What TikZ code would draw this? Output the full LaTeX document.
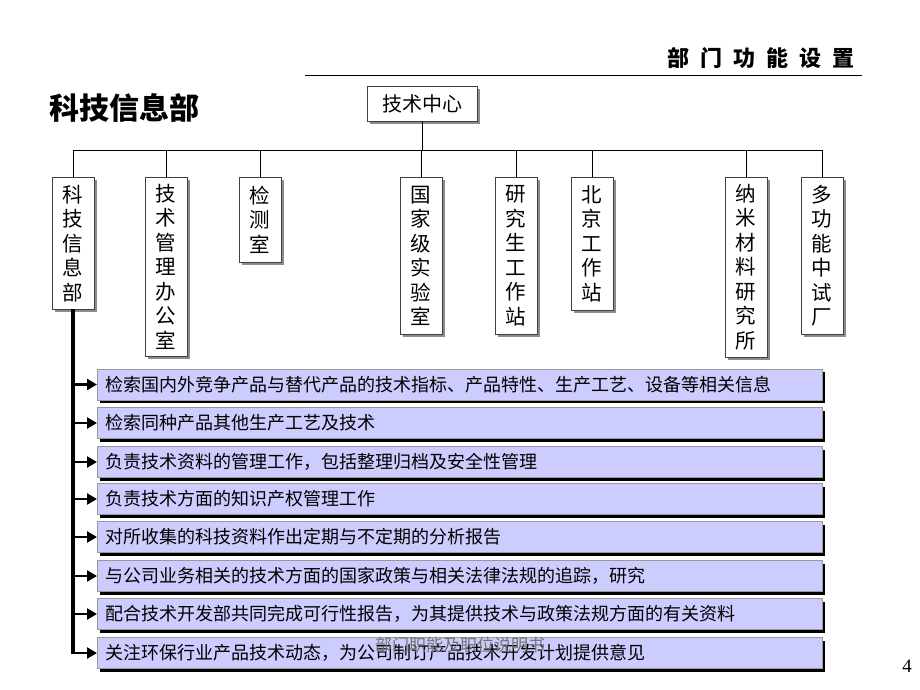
\documentclass[tikz,border=0pt]{standalone}
\usepackage{fontspec}
\setmainfont{Noto Sans CJK SC}
\newfontfamily\numfont{Liberation Serif}
\usetikzlibrary{arrows.meta,shadows}

\definecolor{featfill}{HTML}{CCCCFF}

\begin{document}
\begin{tikzpicture}[
    x=1pt, y=-1pt,
    orgbox/.style={
        draw=black!75,
        fill=white,
        anchor=north,
        minimum width=42pt,
        inner sep=0pt,
        align=center,
        font=\fontsize{20.5}{24.5}\selectfont,
        drop shadow={shadow xshift=3pt, shadow yshift=-3pt, fill=black!45, opacity=1}
    },
    featbox/.style={
        draw=black!40,
        fill=featfill,
        anchor=west,
        minimum height=31pt,
        text width=709pt,
        inner xsep=8pt,
        align=left,
        font=\fontsize{18}{20}\selectfont,
        drop shadow={shadow xshift=3pt, shadow yshift=-3pt, fill=black, opacity=1}
    },
    feed/.style={-{Triangle[length=10pt,width=11pt]}, line width=2.5pt}
]

\useasboundingbox (0,0) rectangle (920,690);

% heading
\node[anchor=east, font=\fontsize{22}{22}\selectfont\bfseries] (ttl) at (858,58)
    {部\hspace{11pt}门\hspace{11pt}功\hspace{11pt}能\hspace{11pt}设\hspace{11pt}置};
\coordinate (rulel) at (305,75);
\coordinate (ruler) at (862,75);
\draw[thin] (rulel) -- (ruler);

\node[anchor=west, font=\fontsize{30}{30}\selectfont\bfseries] (dept) at (46,108) {科技信息部};

% org chart
\node[orgbox, anchor=center, minimum width=110pt, minimum height=35pt,
    font=\fontsize{20}{24}\selectfont] (jszx) at (422,103.5) {技术中心};

\node[orgbox, minimum height=132pt] (kjxx) at (73,177) {科\\技\\信\\息\\部};
\node[orgbox, minimum height=179pt] (jsgl) at (166,177) {技\\术\\管\\理\\办\\公\\室};
\node[orgbox, minimum height=85pt] (jcs) at (260,177) {检\\测\\室};
\node[orgbox, minimum height=157pt] (gjsys) at (421,177) {国\\家\\级\\实\\验\\室};
\node[orgbox, minimum height=157pt] (yjs) at (516,177) {研\\究\\生\\工\\作\\站};
\node[orgbox, minimum height=133pt] (bjgz) at (592,177) {北\\京\\工\\作\\站};
\node[orgbox, minimum height=180pt] (nmcl) at (746,177) {纳\\米\\材\\料\\研\\究\\所};
\node[orgbox, minimum height=157pt] (dgn) at (822,177) {多\\功\\能\\中\\试\\厂};

\coordinate (bus) at (422,150);
\draw[thin] (jszx.south) -- (bus);
\draw[thin] (kjxx.north |- bus) -- (dgn.north |- bus);
\draw[thin] (kjxx.north) -- (kjxx.north |- bus);
\draw[thin] (jsgl.north) -- (jsgl.north |- bus);
\draw[thin] (jcs.north) -- (jcs.north |- bus);
\draw[thin] (gjsys.north) -- (gjsys.north |- bus);
\draw[thin] (yjs.north) -- (yjs.north |- bus);
\draw[thin] (bjgz.north) -- (bjgz.north |- bus);
\draw[thin] (nmcl.north) -- (nmcl.north |- bus);
\draw[thin] (dgn.north) -- (dgn.north |- bus);

% functions
\node[featbox] (f1) at (97,384.5) {检索国内外竞争产品与替代产品的技术指标、产品特性、生产工艺、设备等相关信息};
\node[featbox] (f2) at (97,423) {检索同种产品其他生产工艺及技术};
\node[featbox] (f3) at (97,462) {负责技术资料的管理工作，包括整理归档及安全性管理};
\node[featbox] (f4) at (97,499) {负责技术方面的知识产权管理工作};
\node[featbox] (f5) at (97,537) {对所收集的科技资料作出定期与不定期的分析报告};
\node[featbox] (f6) at (97,576) {与公司业务相关的技术方面的国家政策与相关法律法规的追踪，研究};
\node[featbox] (f7) at (97,614) {配合技术开发部共同完成可行性报告，为其提供技术与政策法规方面的有关资料};
\node[featbox] (f8) at (97,653) {关注环保行业产品技术动态，为公司制订产品技术开发计划提供意见};

\coordinate (trunkend) at (kjxx.south |- f8.west);
\draw[line width=3.5pt] (kjxx.south) -- ([yshift=-1.25pt]trunkend);

\draw[feed] (kjxx.south |- f1.west) -- (f1.west);
\draw[feed] (kjxx.south |- f2.west) -- (f2.west);
\draw[feed] (kjxx.south |- f3.west) -- (f3.west);
\draw[feed] (kjxx.south |- f4.west) -- (f4.west);
\draw[feed] (kjxx.south |- f5.west) -- (f5.west);
\draw[feed] (kjxx.south |- f6.west) -- (f6.west);
\draw[feed] (kjxx.south |- f7.west) -- (f7.west);
\draw[feed] (trunkend) -- (f8.west);

% footer
\node[text=black!55, font=\fontsize{17}{17}\selectfont] (foot) at (460,645) {部门职能及职位说明书};
\node[font=\numfont\fontsize{19}{19}\selectfont] (pgno) at (907,666) {4};

\end{tikzpicture}
\end{document}
